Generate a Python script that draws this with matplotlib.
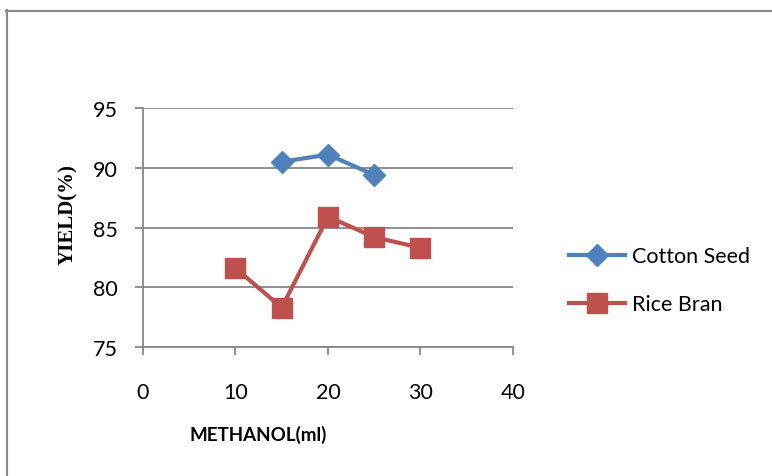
import matplotlib.pyplot as plt
from matplotlib.lines import Line2D

cotton_x = [15, 20, 25]
cotton_y = [90.5, 91.1, 89.4]
rice_x = [10, 15, 20, 25, 30]
rice_y = [81.6, 78.3, 85.9, 84.2, 83.3]
x_ticks = [0, 10, 20, 30, 40]
y_ticks = [75, 80, 85, 90, 95]

plt.rcParams['font.family'] = ['Lato', 'DejaVu Sans']
grey = '#888888'

fig = plt.figure(figsize=(7.72, 4.77), dpi=100)
ax = fig.add_axes([0.1852, 0.2704, 0.4793, 0.5011])

ax.plot(cotton_x, cotton_y, color='#4F81BD', lw=3, marker='D', ms=11.5,
        label='Cotton Seed', zorder=3)
ax.plot(rice_x, rice_y, color='#C0504D', lw=3, marker='s', ms=14,
        label='Rice Bran', zorder=3)

ax.set_xlim(0, 40)
ax.set_ylim(75, 95)
ax.set_xticks(x_ticks)
ax.set_yticks(y_ticks)
ax.yaxis.grid(True, color=grey, lw=1.3)
ax.set_axisbelow(True)
for s in ['top', 'right']:
    ax.spines[s].set_visible(False)
for s in ['left', 'bottom']:
    ax.spines[s].set_color(grey)
    ax.spines[s].set_linewidth(1.3)
ax.tick_params(axis='both', colors=grey, width=1.3, length=6, labelsize=15.5,
               labelcolor='black')
ax.tick_params(axis='x', pad=19)
ax.tick_params(axis='y', pad=12)

fig.text(0.088, 0.551, 'YIELD(%)', rotation=90, ha='center', va='center',
         family='Liberation Serif', weight='bold', fontsize=15)
fig.text(0.335, 0.088, 'METHANOL(ml)', ha='center', va='center',
         weight='bold', fontsize=13.5)

ax.legend(loc='center left', bbox_to_anchor=(1.1, 0.28), frameon=False,
          fontsize=15.5, handlelength=2.6, labelspacing=1.3, handletextpad=0.3)

# outer chart frame
fig.add_artist(Line2D([6.5 / 772, 6.5 / 772], [0, 1 - 11 / 477],
                      transform=fig.transFigure, color=grey, lw=1.5))
fig.add_artist(Line2D([6 / 772, 1], [1 - 11.5 / 477, 1 - 11.5 / 477],
                      transform=fig.transFigure, color=grey, lw=1.5))

fig.savefig('out.png', dpi=100)
